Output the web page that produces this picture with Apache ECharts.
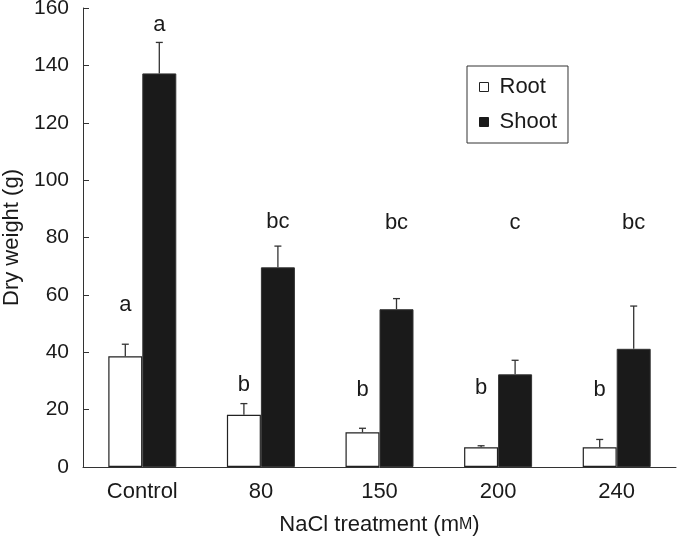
<!DOCTYPE html>
<html><head><meta charset="utf-8">
<script src="https://cdn.jsdelivr.net/npm/echarts@6/dist/echarts.min.js"></script>
<style>html,body{margin:0;padding:0;background:#fff}#c{width:677px;height:536px}</style>
</head><body><div id="c"></div>
<script>
const categories = ['Control', '80', '150', '200', '240'];
const rootMean = [38.6, 18.2, 12.1, 6.9, 6.9];
const rootErr = [4.2, 3.9, 1.4, 0.5, 2.7];
const shootMean = [137.2, 69.6, 55.0, 32.3, 41.2];
const shootErr = [10.8, 7.4, 3.7, 4.9, 14.9];
const rootLetters = ['a', 'b', 'b', 'b', 'b'];
const rootLetterY = [56.5, 28.6, 26.8, 27.5, 26.8];
const shootLetters = ['a', 'bc', 'bc', 'c', 'bc'];
const shootLetterY = [154, 85.4, 85, 85, 85];
const yTicks = [0, 20, 40, 60, 80, 100, 120, 140, 160];

const FONT = '"Liberation Sans", Arial, sans-serif';
const INK = '#1a1a1a';
const BW = 34;

const errData = [];
categories.forEach((c, i) => {
  errData.push([i, rootMean[i], rootErr[i], -1]);
  errData.push([i, shootMean[i], shootErr[i], 1]);
});
const letterData = [];
categories.forEach((c, i) => {
  letterData.push([i, rootLetterY[i], rootLetters[i], -1]);
  letterData.push([i, shootLetterY[i], shootLetters[i], 1]);
});

const chart = echarts.init(document.getElementById('c'));
chart.setOption({
  animation: false,
  grid: { left: 83, right: 1, top: 8, bottom: 69, containLabel: false, outerBoundsMode: 'none' },
  legend: {
    orient: 'vertical', left: 467, top: 66,
    borderColor: '#333', borderWidth: 1,
    padding: [10, 11, 10, 12], itemGap: 13,
    itemWidth: 9, itemHeight: 9,
    icon: 'rect',
    textStyle: { fontFamily: FONT, fontSize: 22, color: INK, padding: [0, 0, 0, 6] },
    data: [
      { name: 'Root', itemStyle: { color: '#fff', borderColor: '#222', borderWidth: 1 } },
      { name: 'Shoot', itemStyle: { color: INK, borderColor: INK, borderWidth: 1 } }
    ]
  },
  xAxis: {
    type: 'category', data: categories,
    name: 'NaCl treatment (m{s|M})', nameLocation: 'middle', nameGap: 47,
    nameTextStyle: { fontFamily: FONT, fontSize: 22, color: INK,
      rich: { s: { fontFamily: FONT, fontSize: 16, color: INK } } },
    axisLine: { lineStyle: { color: '#333', width: 1 } },
    axisTick: { inside: true, length: 6, lineStyle: { color: '#333' } },
    axisLabel: { fontFamily: FONT, fontSize: 22, color: INK, margin: 14 }
  },
  yAxis: {
    type: 'value', min: 0, max: 160, interval: 20,
    name: 'Dry weight (g)', nameLocation: 'middle', nameGap: 60,
    nameTextStyle: { fontFamily: FONT, fontSize: 22, color: INK },
    splitLine: { show: false },
    axisLine: { show: true, lineStyle: { color: '#333', width: 1 } },
    axisTick: { show: true, inside: true, length: 6, lineStyle: { color: '#333' } },
    axisLabel: { fontFamily: FONT, fontSize: 21, color: INK, margin: 14,
      formatter: v => (yTicks.indexOf(v) >= 0 ? String(v) : '') }
  },
  series: [
    { name: 'Root', type: 'bar', data: rootMean, barWidth: BW, barGap: '0%',
      itemStyle: { color: '#fff', borderColor: '#222', borderWidth: 1.2 } },
    { name: 'Shoot', type: 'bar', data: shootMean, barWidth: BW, barGap: '0%',
      itemStyle: { color: INK, borderColor: '#333', borderWidth: 1 } },
    { type: 'custom', data: errData, z: 5,
      renderItem: function (params, api) {
        const i = api.value(0), m = api.value(1), e = api.value(2), side = api.value(3);
        const p0 = api.coord([i, m]);
        const p1 = api.coord([i, m + e]);
        const x = p0[0] + side * BW / 2;
        return { type: 'group', children: [
          { type: 'line', shape: { x1: x, y1: p0[1], x2: x, y2: p1[1] }, style: { stroke: '#333', lineWidth: 1.3 } },
          { type: 'line', shape: { x1: x - 3.5, y1: p1[1], x2: x + 3.5, y2: p1[1] }, style: { stroke: '#333', lineWidth: 1.3 } }
        ] };
      } },
    { type: 'custom', data: letterData, z: 6,
      renderItem: function (params, api) {
        const i = api.value(0), y = api.value(1), side = api.value(3);
        const t = letterData[params.dataIndex][2];
        const p = api.coord([i, y]);
        return { type: 'text', x: p[0] + side * BW / 2, y: p[1],
          style: { text: t, fill: INK, fontFamily: FONT, fontSize: 22, align: 'center', verticalAlign: 'middle' } };
      } }
  ]
});
</script></body></html>
